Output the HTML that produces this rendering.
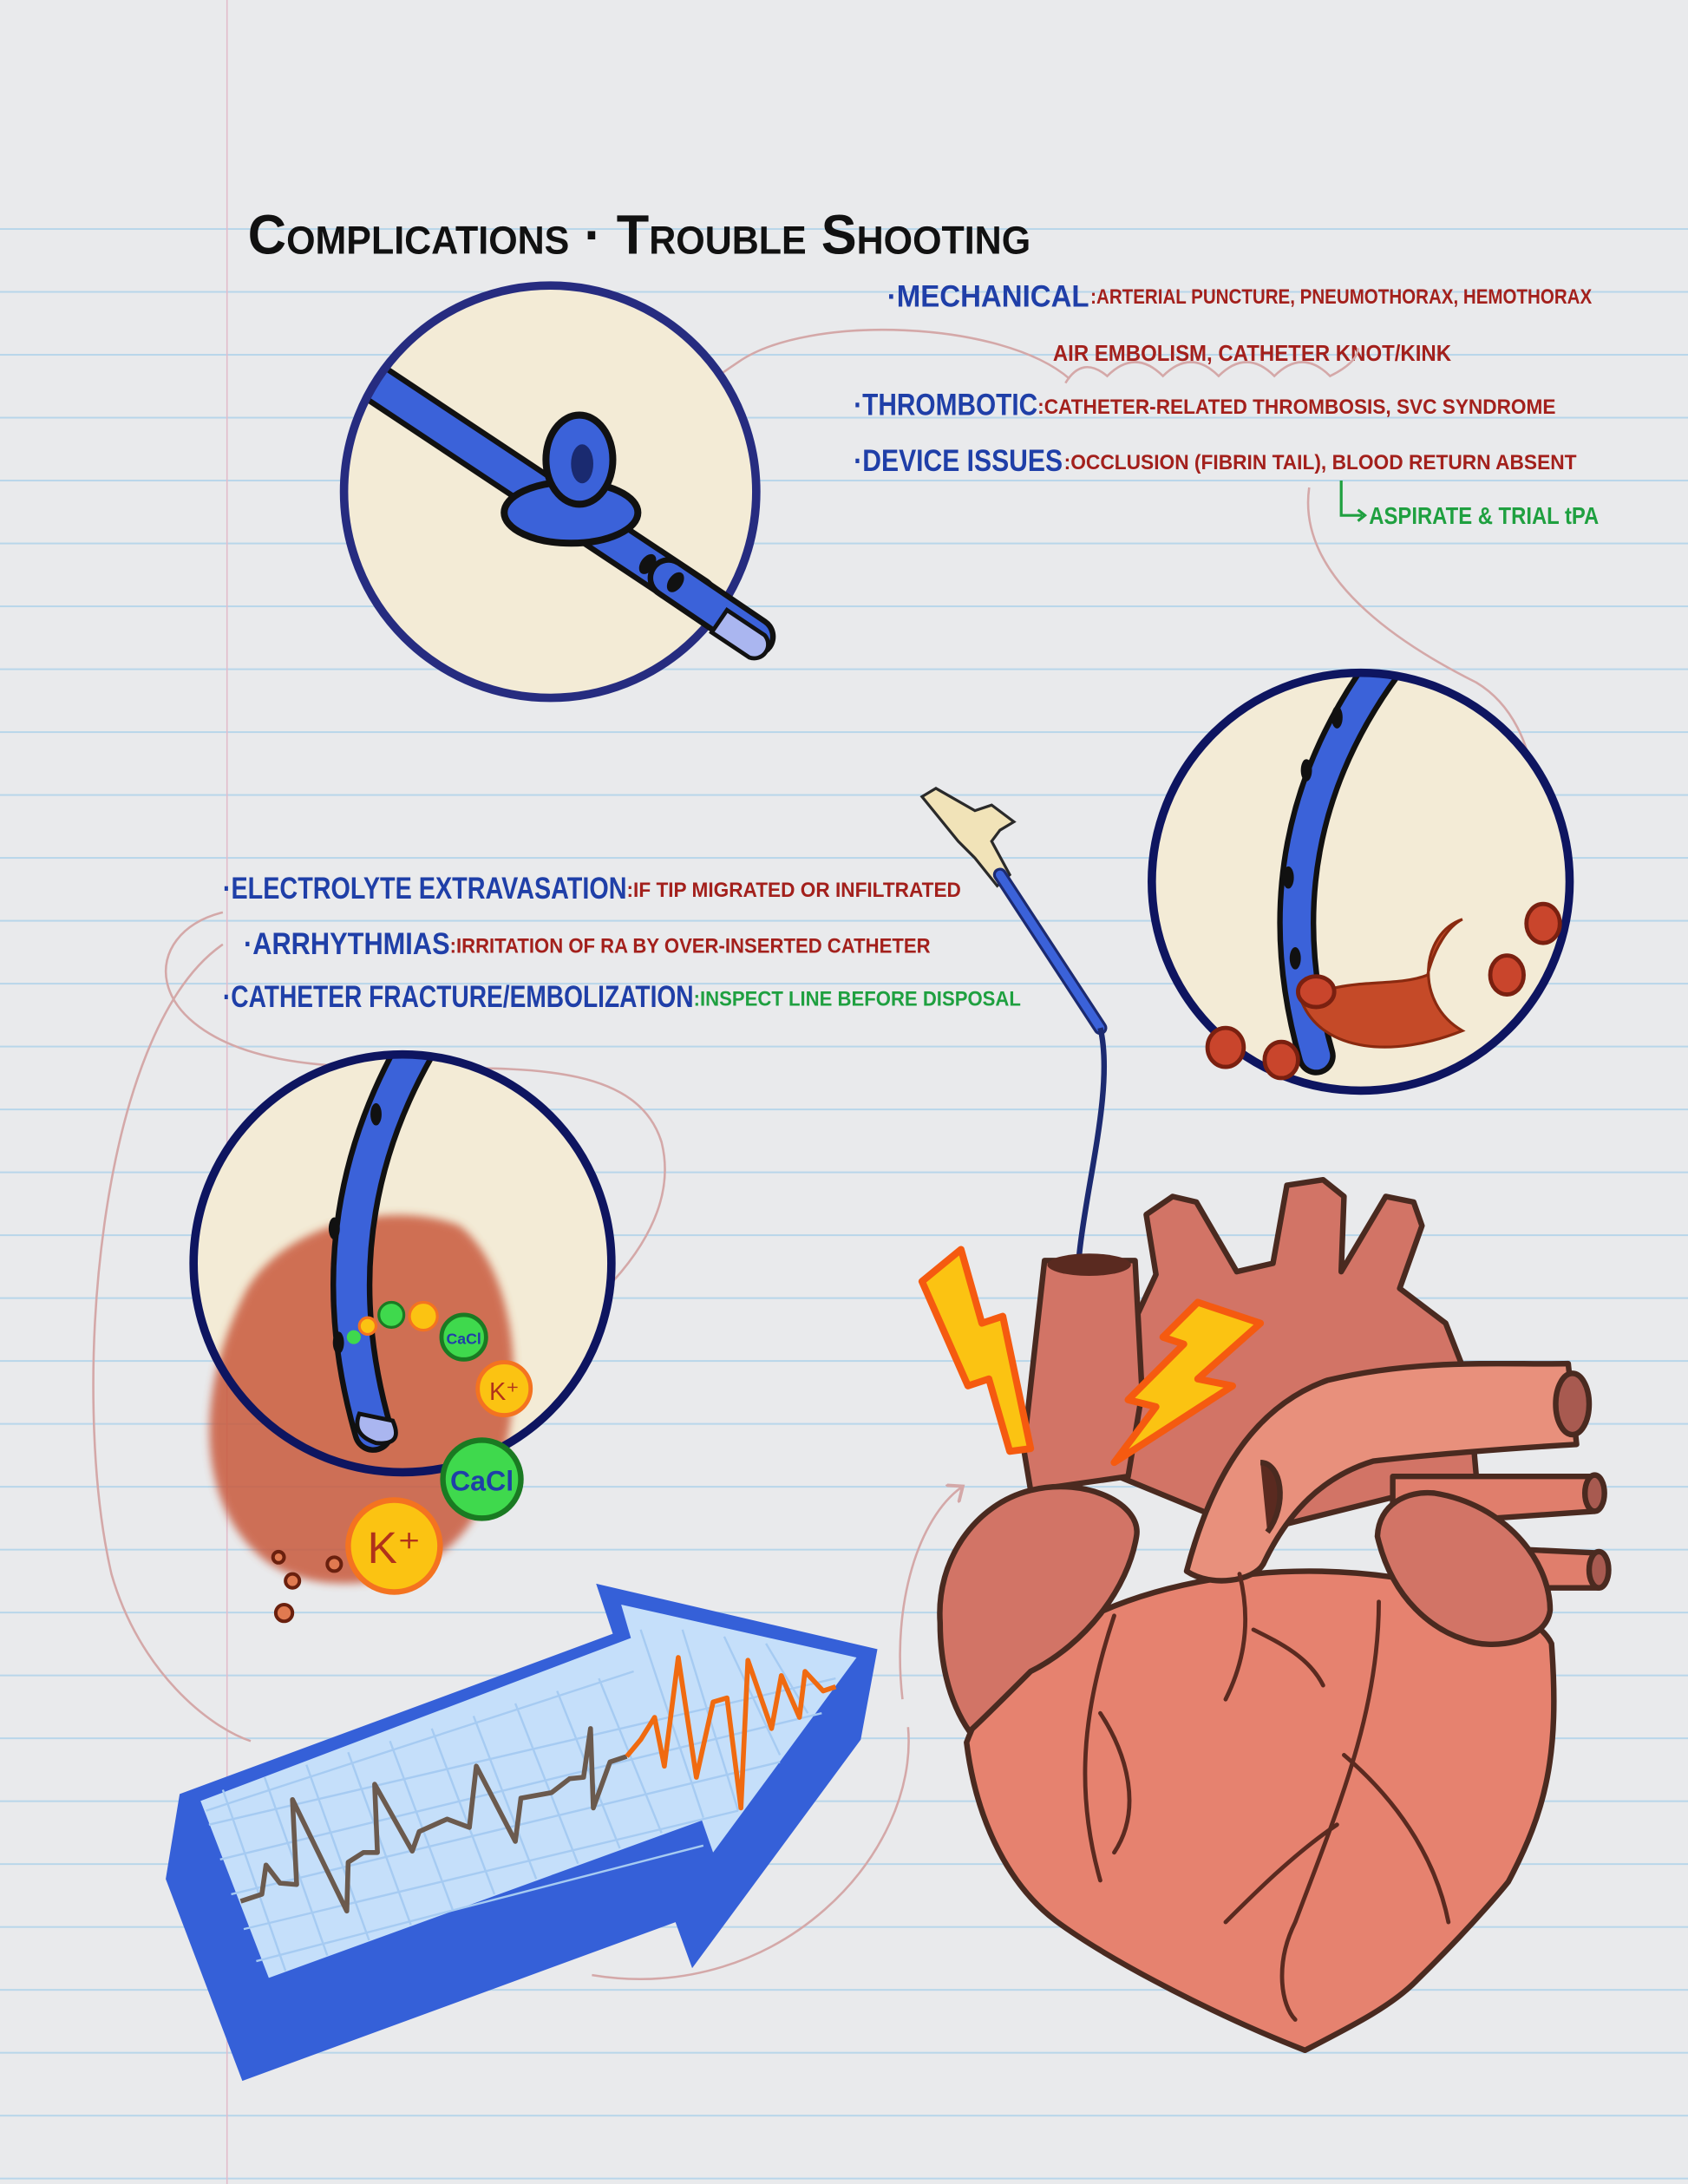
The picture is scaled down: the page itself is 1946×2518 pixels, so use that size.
<!DOCTYPE html>
<html><head><meta charset="utf-8"><style>html,body{margin:0;padding:0;background:#e9eaec}svg{display:block}text{font-family:"Liberation Sans Narrow","Liberation Sans",sans-serif;font-weight:bold}</style></head>
<body>
<svg width="1946" height="2518" viewBox="0 0 1212 1568" preserveAspectRatio="none" xmlns="http://www.w3.org/2000/svg">
<defs>
<pattern id="lines" x="0" y="163.8" width="1212" height="45.15" patternUnits="userSpaceOnUse"><line x1="0" y1="0.5" x2="1212" y2="0.5" stroke="#b8d6ea" stroke-width="1.4"/></pattern>
<filter id="blur"><feGaussianBlur stdDeviation="3"/></filter>
<clipPath id="cR"><circle cx="977" cy="633" r="148"/></clipPath>
<clipPath id="cL"><circle cx="289" cy="907" r="148"/></clipPath>
<clipPath id="cT"><circle cx="395" cy="353" r="146"/></clipPath>
<marker id="ah" markerWidth="10" markerHeight="10" refX="5" refY="5" orient="auto"><path d="M0 0 L6 5 L0 10" fill="none" stroke="#d4a8a8" stroke-width="1.5"/></marker>
</defs>
<rect width="1212" height="1568" fill="#e9eaec"/>
<rect x="0" y="163" width="1212" height="1405" fill="url(#lines)"/>
<line x1="163" y1="0" x2="163" y2="1568" stroke="#e2bccb" stroke-width="1"/>

<text x="178" y="182" font-size="40" fill="#111" textLength="562" lengthAdjust="spacingAndGlyphs" style="font-variant:small-caps;font-family:'Liberation Sans',sans-serif">Complications · Trouble Shooting</text>

<text x="637" y="220" font-size="22" fill="#1f3fa8" textLength="145" lengthAdjust="spacingAndGlyphs">·MECHANICAL</text>
<text x="783" y="218" font-size="15" fill="#a3201c" textLength="360" lengthAdjust="spacingAndGlyphs">:ARTERIAL PUNCTURE, PNEUMOTHORAX, HEMOTHORAX</text>
<text x="756" y="259" font-size="16" fill="#a3201c" textLength="286" lengthAdjust="spacingAndGlyphs">AIR EMBOLISM, CATHETER KNOT/KINK</text>
<text x="613" y="298" font-size="22" fill="#1f3fa8" textLength="132" lengthAdjust="spacingAndGlyphs">·THROMBOTIC</text>
<text x="745" y="297" font-size="15" fill="#a3201c" textLength="372" lengthAdjust="spacingAndGlyphs">:CATHETER-RELATED THROMBOSIS, SVC SYNDROME</text>
<text x="613" y="338" font-size="22" fill="#1f3fa8" textLength="150" lengthAdjust="spacingAndGlyphs">·DEVICE ISSUES</text>
<text x="764" y="337" font-size="15" fill="#a3201c" textLength="368" lengthAdjust="spacingAndGlyphs">:OCCLUSION (FIBRIN TAIL), BLOOD RETURN ABSENT</text>
<path d="M963 345 V370 H978" fill="none" stroke="#1fa040" stroke-width="2"/><path d="M975 366 L980 370 L975 374" fill="none" stroke="#1fa040" stroke-width="2"/>
<text x="983" y="376" font-size="17" fill="#1fa040" textLength="165" lengthAdjust="spacingAndGlyphs">ASPIRATE &amp; TRIAL tPA</text>

<text x="160" y="645" font-size="22" fill="#1f3fa8" textLength="290" lengthAdjust="spacingAndGlyphs">·ELECTROLYTE EXTRAVASATION</text>
<text x="450" y="644" font-size="15" fill="#a3201c" textLength="240" lengthAdjust="spacingAndGlyphs">:IF TIP MIGRATED OR INFILTRATED</text>
<text x="175" y="685" font-size="22" fill="#1f3fa8" textLength="148" lengthAdjust="spacingAndGlyphs">·ARRHYTHMIAS</text>
<text x="323" y="684" font-size="15" fill="#a3201c" textLength="345" lengthAdjust="spacingAndGlyphs">:IRRITATION OF RA BY OVER-INSERTED CATHETER</text>
<text x="160" y="723" font-size="22" fill="#1f3fa8" textLength="338" lengthAdjust="spacingAndGlyphs">·CATHETER FRACTURE/EMBOLIZATION</text>
<text x="498" y="722" font-size="15" fill="#1fa040" textLength="235" lengthAdjust="spacingAndGlyphs">:INSPECT LINE BEFORE DISPOSAL</text>

<g fill="none" stroke="#d4a8a8" stroke-width="1.6">
<path d="M768 272 C 720 230, 580 225, 530 260 C 500 280, 475 300, 460 322" marker-end="url(#ah)"/>
<path d="M765 275 q 12 -20 30 -5 q 20 -20 40 0 q 20 -20 40 0 q 20 -20 40 0 q 20 -20 40 0 q 20 -10 20 -20"/>
<path d="M940 350 C 930 420, 1020 470, 1060 490 C 1110 520, 1120 610, 1060 668" marker-end="url(#ah)"/>
<path d="M160 655 C 100 670, 100 740, 200 760 C 300 780, 450 740, 475 820 C 490 880, 430 930, 420 940"/>
<path d="M160 678 C 70 740, 50 1000, 80 1130 C 100 1200, 150 1240, 180 1250"/>
<path d="M648 1220 C 640 1150, 660 1090, 690 1068" marker-end="url(#ah)"/>
<path d="M652 1240 C 660 1330, 560 1440, 425 1418"/>
</g>

<!-- top circle -->
<circle cx="395" cy="353" r="148" fill="#f3ebd6"/>
<g clip-path="url(#cT)" stroke-linecap="round">
<line x1="250" y1="262" x2="500" y2="428" stroke="#111" stroke-width="30"/>
<line x1="250" y1="262" x2="500" y2="428" stroke="#3b62d9" stroke-width="22"/>
</g>
<circle cx="395" cy="353" r="148" fill="none" stroke="#262c80" stroke-width="6"/>
<line x1="480" y1="415" x2="542" y2="457" stroke="#111" stroke-width="30" stroke-linecap="round"/>
<line x1="480" y1="415" x2="542" y2="457" stroke="#3b62d9" stroke-width="22" stroke-linecap="round"/>
<path d="M522 438 L549 456 A10 10 0 0 1 538 472 L511 454 Z" fill="#aab6f0" stroke="#111" stroke-width="3"/>
<ellipse cx="410" cy="368" rx="48" ry="22" fill="#3b62d9" stroke="#111" stroke-width="5"/>
<ellipse cx="416" cy="330" rx="24" ry="32" fill="#3b62d9" stroke="#111" stroke-width="5"/>
<ellipse cx="418" cy="333" rx="8" ry="14" fill="#1a2a70"/>
<ellipse cx="465" cy="405" rx="5" ry="8" fill="#111" transform="rotate(35 465 405)"/>
<ellipse cx="485" cy="418" rx="5" ry="8" fill="#111" transform="rotate(35 485 418)"/>

<!-- right circle -->
<circle cx="977" cy="633" r="150" fill="#f3ebd6"/>
<g clip-path="url(#cR)">
<path d="M1000 470 Q 900 600 945 758" fill="none" stroke="#111" stroke-width="28" stroke-linecap="round"/>
<path d="M1000 470 Q 900 600 945 758" fill="none" stroke="#3b62d9" stroke-width="20" stroke-linecap="round"/>
<g fill="#111"><ellipse cx="960" cy="515" rx="4" ry="8"/><ellipse cx="938" cy="553" rx="4" ry="8"/><ellipse cx="925" cy="630" rx="4" ry="8"/><ellipse cx="930" cy="688" rx="4" ry="8"/></g>
<path d="M1050 660 C 1020 670, 1015 720, 1050 740 C 1000 760, 950 755, 935 720 C 960 700, 1000 710, 1025 700 C 1030 680, 1040 665, 1050 660 Z" fill="#c54a28" stroke="#8a2a10" stroke-width="2"/>
</g>
<circle cx="977" cy="633" r="150" fill="none" stroke="#0e1560" stroke-width="6"/>
<g fill="#c9452c" stroke="#7a2010" stroke-width="3">
<ellipse cx="945" cy="712" rx="13" ry="11"/><ellipse cx="1108" cy="663" rx="12" ry="14"/><ellipse cx="1082" cy="700" rx="12" ry="14"/><ellipse cx="880" cy="752" rx="13" ry="14"/><ellipse cx="920" cy="761" rx="12" ry="13"/></g>

<!-- left circle -->
<circle cx="289" cy="907" r="150" fill="#f3ebd6"/>
<g filter="url(#blur)" fill="#c95a3c" opacity="0.85">
<path d="M175 930 C 200 880, 280 860, 330 880 C 380 920, 380 1040, 340 1090 C 310 1140, 230 1150, 190 1120 C 140 1080, 140 1000, 175 930 Z"/>
</g>
<g clip-path="url(#cL)">
<path d="M300 750 Q 225 880 268 1028" fill="none" stroke="#111" stroke-width="30" stroke-linecap="round"/>
<path d="M300 750 Q 225 880 268 1028" fill="none" stroke="#3b62d9" stroke-width="22" stroke-linecap="round"/>
<g fill="#111"><ellipse cx="270" cy="800" rx="4" ry="8"/><ellipse cx="240" cy="882" rx="4" ry="8"/><ellipse cx="243" cy="964" rx="4" ry="8"/></g>
</g>
<path d="M258 1015 L282 1020 Q290 1038 270 1036 Q252 1030 258 1015 Z" fill="#aab6f0" stroke="#111" stroke-width="3"/>
<circle cx="289" cy="907" r="150" fill="none" stroke="#0e1560" stroke-width="6"/>
<g text-anchor="middle">
<circle cx="283" cy="1110" r="33" fill="#fbc312" stroke="#f47320" stroke-width="4"/><text x="283" y="1122" font-size="32" fill="#b1321a" style="font-weight:normal;font-family:'Liberation Sans'">K⁺</text>
<circle cx="346" cy="1062" r="28" fill="#3fd94d" stroke="#1a7a22" stroke-width="4"/><text x="346" y="1070" font-size="20" fill="#1f3fa8">CaCl</text>
<circle cx="362" cy="997" r="19" fill="#fbc312" stroke="#f47320" stroke-width="3"/><text x="362" y="1005" font-size="18" fill="#b1321a" style="font-weight:normal;font-family:'Liberation Sans'">K⁺</text>
<circle cx="333" cy="960" r="16" fill="#3fd94d" stroke="#1a7a22" stroke-width="3"/><text x="333" y="965" font-size="11" fill="#1f3fa8">CaCl</text>
<circle cx="304" cy="945" r="10" fill="#fbc312" stroke="#f47320" stroke-width="2"/>
<circle cx="281" cy="944" r="9" fill="#3fd94d" stroke="#1a7a22" stroke-width="2"/>
<circle cx="264" cy="952" r="6" fill="#fbc312" stroke="#f47320" stroke-width="2"/>
<circle cx="254" cy="960" r="5" fill="#3fd94d"/>
</g>
<g fill="#e07a50" stroke="#6a200e" stroke-width="2.5"><circle cx="204" cy="1158" r="6"/><circle cx="200" cy="1118" r="4"/><circle cx="210" cy="1135" r="5"/><circle cx="240" cy="1123" r="5"/></g>

<!-- catheter hub -->
<path d="M662 572 L672 566 L700 582 L712 578 L728 590 L718 596 L712 604 L725 628 L716 636 L700 616 L688 604 Z" fill="#f1e3b8" stroke="#2a2a2a" stroke-width="2"/>
<line x1="718" y1="628" x2="790" y2="738" stroke="#1c2a70" stroke-width="10" stroke-linecap="round"/>
<line x1="718" y1="628" x2="790" y2="738" stroke="#3b62d9" stroke-width="6" stroke-linecap="round"/>
<path d="M790 738 C 800 780, 780 850, 775 900 C 770 960, 770 1040, 773 1095" fill="none" stroke="#1c2a70" stroke-width="4"/>

<!-- heart -->
<g stroke="#4a2a20" stroke-width="4" stroke-linejoin="round">
<path d="M823 872 L842 859 L859 863 L888 913 L914 907 L924 851 L950 847 L965 859 L963 913 L995 859 L1015 863 L1021 880 L1005 925 L1038 950 L1054 991 L1060 1060 L900 1100 L803 1060 L800 980 L830 915 Z" fill="#d27466"/>
<path d="M750 905 L815 905 L820 1000 L810 1060 L740 1070 L735 1040 Z" fill="#d27466"/>
<ellipse cx="782" cy="908" rx="30" ry="8" fill="#5a2a20" stroke="none"/>
<path d="M1000 1060 L1145 1060 L1145 1085 L1000 1095 Z" fill="#e07e6c"/>
<path d="M1040 1110 L1148 1115 L1148 1140 L1040 1140 Z" fill="#e07e6c"/>
<ellipse cx="1145" cy="1072" rx="7" ry="13" fill="#a85a50"/>
<ellipse cx="1148" cy="1127" rx="7" ry="13" fill="#a85a50"/>
<path d="M694 1251 C 700 1300, 720 1350, 758 1379 C 800 1410, 880 1450, 937 1472 C 970 1455, 1000 1440, 1018 1421 C 1060 1380, 1083 1351, 1083 1351 C 1110 1300, 1120 1260, 1114 1180 C 1100 1150, 1000 1120, 900 1130 C 800 1140, 720 1180, 694 1251 Z" fill="#e6826f"/>
<path d="M852 1128 C 870 1060, 900 1010, 953 991 C 1020 975, 1080 980, 1126 979 L1132 1037 C 1080 1040, 1020 1045, 986 1049 C 950 1060, 925 1085, 907 1123 C 900 1135, 870 1140, 852 1128 Z" fill="#e8907c"/>
<ellipse cx="1129" cy="1008" rx="12" ry="22" fill="#a85a50"/>
<path d="M989 1103 C 990 1080, 1010 1070, 1030 1072 C 1080 1080, 1113 1120, 1113 1156 C 1110 1180, 1070 1185, 1051 1177 C 1030 1170, 1000 1150, 989 1103 Z" fill="#d27466"/>
<path d="M675 1165 C 672 1120, 700 1080, 740 1070 C 780 1060, 820 1080, 816 1103 C 810 1140, 780 1180, 740 1200 C 720 1220, 700 1240, 696 1243 C 680 1220, 675 1190, 675 1165 Z" fill="#d27466"/>
<path d="M905 1050 C 920 1050, 925 1080, 910 1100" fill="#5a2a20"/>
</g>
<g fill="none" stroke="#5a2a20" stroke-width="3" stroke-linecap="round">
<path d="M800 1160 C 780 1220, 770 1280, 790 1350"/><path d="M790 1230 C 810 1260, 820 1300, 800 1330"/>
<path d="M990 1150 C 990 1230, 960 1300, 930 1380 C 915 1410, 920 1440, 930 1450"/>
<path d="M965 1260 C 1000 1290, 1030 1330, 1040 1380"/><path d="M960 1310 C 930 1330, 900 1360, 880 1380"/>
<path d="M890 1130 C 900 1170, 890 1200, 880 1220"/><path d="M900 1170 C 920 1180, 940 1190, 950 1210"/>
</g>
<g fill="#fbc312" stroke="#f55a10" stroke-width="5" stroke-linejoin="round">
<path d="M662 920 L690 897 L705 950 L720 945 L740 1040 L725 1042 L710 990 L695 995 Z"/>
<path d="M860 935 L905 950 L860 990 L885 995 L800 1050 L830 1010 L810 1005 L850 965 L835 960 Z"/>
</g>

<!-- ECG arrow -->
<path d="M129 1288 L119 1349 L174 1494 L485 1380 L497 1413 L618 1249 L630 1184 L428 1137 L440 1173 Z" fill="#3560d8"/>
<path d="M144 1293 L193 1420 L504 1307 L512 1330 L615 1190 L446 1152 L453 1176 Z" fill="#c5dffa"/>
<g stroke="#a6cbf2" stroke-width="1.5">
<path d="M160 1285 L205 1415 M190 1276 L235 1404 M220 1267 L265 1393 M250 1258 L295 1382 M280 1250 L325 1371 M310 1241 L355 1360 M340 1232 L385 1349 M370 1223 L415 1338 M400 1214 L445 1327 M430 1205 L475 1316 M460 1170 L505 1305 M490 1170 L530 1300 M520 1175 L560 1260 M550 1180 L580 1230"/>
<path d="M150 1310 L600 1205 M158 1335 L590 1230 M166 1360 L560 1265 M175 1385 L530 1300 M184 1408 L505 1325 M148 1300 L455 1200"/>
</g>
<polyline points="172.8,1365 188,1360 191,1339 201,1352 213,1353 210,1292 249,1372 250,1337 261,1330 271,1330 269,1281 296,1329 301,1315 321,1306 337,1312 342,1268 370,1322 374,1291 396,1287 409,1277 419,1276 424,1241 426,1298 438,1265 450,1261" fill="none" stroke="#6b5a4e" stroke-width="3.5" stroke-linejoin="round"/>
<polyline points="450,1261 460,1249 470,1233 477,1268 487,1190 500,1276 512,1222 522,1219 532,1298 537,1192 554,1241 561,1203 574,1233 578,1200 591,1214 600,1211" fill="none" stroke="#f06a10" stroke-width="3.5" stroke-linejoin="round"/>
</svg>
</body></html>
